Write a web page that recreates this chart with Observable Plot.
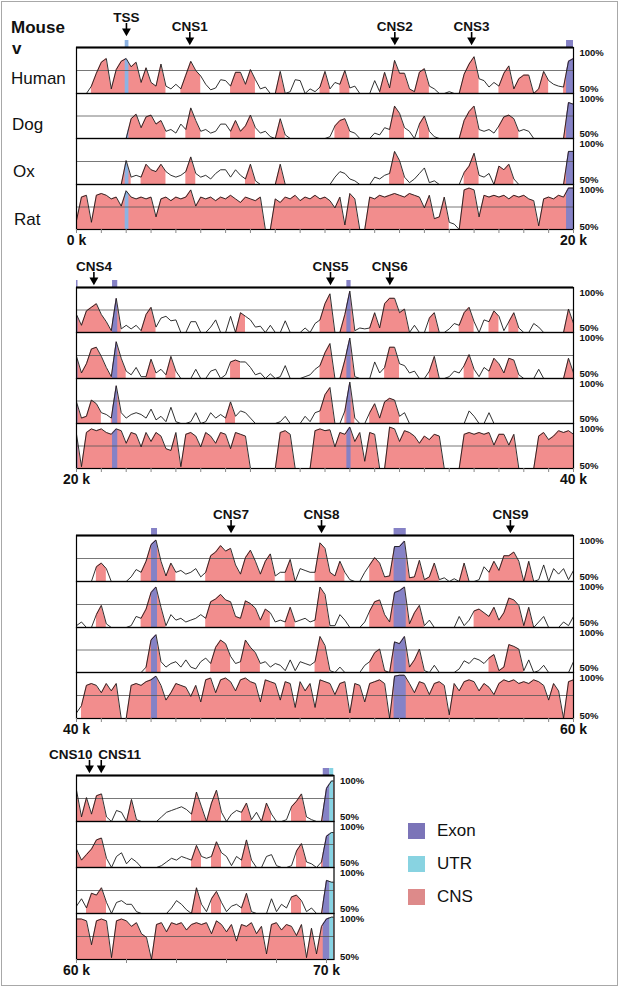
<!DOCTYPE html>
<html><head><meta charset="utf-8">
<script src="https://cdn.jsdelivr.net/npm/d3@7"></script>
<script src="https://cdn.jsdelivr.net/npm/@observablehq/plot@0.6"></script>
<style>
html,body{margin:0;padding:0;background:#fff;}
#page{position:relative;width:621px;height:987px;overflow:hidden;background:#fff;font-family:"Liberation Sans",Arial,Helvetica,sans-serif;color:#111;}
#page svg{overflow:visible;}
.abs{position:absolute;}
.lab{position:absolute;font-size:17px;line-height:20px;white-space:nowrap;}
#frame{position:absolute;left:1px;top:1px;width:615px;height:983px;border:1.5px solid #a8a8a8;}
</style></head><body><div id="page"><div id="frame"></div></div>
<script>
// ---------------- DATA ----------------
const STEP = 0.2; // kb between samples
const speciesNames = ["Human", "Dog", "Ox", "Rat"];
const panelStart = [0, 20, 40, 60];
const panelEnd = [20, 40, 60, 70.3];
const tickStep = [1, 1, 1, 2];
const axisLabels = [["0 k", "20 k"], ["20 k", "40 k"], ["40 k", "60 k"], ["60 k", "70 k"]];
const axisLabelPos = [[0, 20], [20, 40], [40, 60], [60, 70]];

const markerNames = ["TSS", "CNS1", "CNS2", "CNS3", "CNS4", "CNS5", "CNS6", "CNS7", "CNS8", "CNS9", "CNS10", "CNS11"];
const markerPos = [2.01, 4.56, 12.81, 15.9, 20.7, 30.22, 32.61, 46.22, 49.86, 57.46, 60.52, 60.99];

const featType = ["TSS", "Exon", "Exon", "Exon", "Exon", "Exon", "Exon", "UTR"];
const featStart = [1.96, 19.72, 21.45, 30.88, 43.02, 52.78, 69.87, 70.13];
const featEnd = [2.11, 20.06, 21.66, 31.05, 43.26, 53.27, 70.13, 70.29];

const legendNames = ["Exon", "UTR", "CNS"];

// conservation (%) every 0.2 kb, values below 50 drawn at 50
const human1 = [
50,50,50,58,72,84,88,55,76,85, 88,79,84,62,78,62,58,82,58,55,
60,55,70,85,75,69,60,54,56,65, 64,58,73,73,60,76,65,55,57,50,
50,74,50,52,65,64,50,55,52,57, 74,55,62,60,75,56,58,50,50,50,
64,52,73,56,86,72,72,55,52,73, 77,58,55,50,50,52,50,50,71,82,
90,66,64,57,62,58,72,80,55,66, 70,70,50,55,74,64,60,58,57,85, 88];
const dog1 = [
50,50,50,50,50,50,50,50,50,50, 50,72,77,62,74,76,66,70,58,60,
56,66,60,84,70,58,60,56,58,66, 66,58,70,58,64,76,62,56,58,52,
50,72,54,50,50,50,50,50,50,50, 50,52,64,70,72,58,56,50,50,50,
56,54,62,60,86,78,62,58,50,66, 75,58,52,50,50,50,50,50,70,80,
86,60,58,60,56,64,74,76,72,58, 60,58,50,50,50,50,50,50,50,90, 88];
const ox1 = [
50,50,50,50,50,50,50,50,50,50, 76,58,60,58,72,66,64,72,64,60,
58,60,64,80,62,58,60,56,62,66, 66,58,66,60,56,72,54,50,50,50,
50,72,50,50,50,50,50,50,50,50, 50,50,58,64,62,56,54,50,50,50,
58,56,60,62,86,76,58,52,56,62, 68,52,54,50,50,50,50,50,63,70,
84,60,58,62,50,70,66,72,56,50, 50,50,50,50,50,50,50,50,50,86, 86];
const rat1 = [
60,86,88,58,88,90,88,84,86,76, 93,86,84,86,84,86,64,84,86,82,
86,84,86,94,76,86,84,86,82,86, 84,88,84,80,86,84,82,86,50,50,
84,80,86,84,88,82,86,84,88,84, 86,82,74,86,55,90,84,50,50,86,
84,88,86,88,90,88,86,90,88,86, 74,88,62,64,86,58,56,50,94,96,
94,64,88,86,88,86,88,84,88,86, 88,84,82,54,84,86,84,88,86,96, 96];

const human2 = [
70,58,74,78,82,70,62,52,88,54, 58,54,58,52,70,78,56,66,68,63,
64,50,50,62,62,50,50,56,64,50, 50,68,50,72,68,64,56,57,50,58,
50,50,63,50,50,50,55,50,60,64, 82,93,50,50,70,96,52,55,54,55,
72,55,82,88,88,72,76,50,58,50, 50,66,72,50,50,54,60,58,72,78,
62,50,64,62,74,68,52,62,72,55, 50,50,60,56,50,50,50,50,50,76, 60];
const dog2 = [
74,56,66,82,84,74,62,52,90,72, 58,54,62,52,52,71,56,60,54,74,
58,50,50,50,60,50,50,58,60,50, 54,68,70,68,68,62,54,56,50,55,
50,52,64,50,50,50,52,54,60,64, 78,88,50,50,70,94,52,50,50,50,
68,56,62,84,84,66,64,56,58,50, 50,58,74,50,50,52,58,56,64,76,
60,52,62,58,72,66,56,72,70,54, 50,50,50,60,50,50,50,50,50,72, 56];
const ox2 = [
74,56,58,76,72,62,60,56,92,62, 56,60,62,60,56,66,54,58,52,68,
52,50,50,52,62,50,52,62,56,60, 56,74,58,64,62,56,50,50,50,50,
50,52,58,50,50,50,58,52,62,64, 82,90,50,50,64,96,56,50,50,62,
72,56,74,78,76,58,62,50,50,50, 50,50,50,50,50,50,50,50,50,64,
58,50,50,62,50,50,50,50,50,50, 50,50,50,50,50,50,50,50,50,50, 50];
const rat2 = [
88,52,90,94,92,94,90,88,94,92, 78,90,88,74,90,80,90,86,72,70,
90,52,88,90,86,74,90,86,78,90, 88,72,90,88,86,50,50,50,50,50,
50,90,92,88,50,50,50,50,92,94, 92,93,74,90,88,96,80,90,58,90,
88,50,50,96,94,80,92,90,86,78, 86,82,88,86,50,50,50,50,88,90,
88,90,88,90,76,88,88,76,88,50, 50,50,50,86,90,82,86,92,90,92, 88];

const human3 = [
50,50,50,50,66,70,64,50,50,50, 50,55,63,60,72,90,95,72,56,70,
60,62,58,60,64,55,60,78,82,89, 83,86,68,58,76,84,72,58,72,80,
56,60,60,74,50,64,62,60,60,92, 86,60,56,72,60,52,50,50,60,68,
76,70,55,56,88,88,94,54,55,73, 52,55,70,52,54,50,53,50,70,50,
50,52,66,60,72,62,78,78,82,72, 50,72,50,52,68,50,64,58,64,52, 62];
const dog3 = [
52,56,50,50,64,74,54,50,50,50, 50,52,62,60,70,88,94,72,52,64,
58,60,56,58,60,64,60,78,81,86, 80,78,62,60,79,76,71,58,70,66,
56,58,56,72,56,58,60,56,58,94, 86,52,52,64,58,50,50,50,56,68,
78,80,64,56,88,90,94,54,66,74, 52,58,50,50,50,50,50,62,52,58,
68,70,66,62,72,58,66,82,80,74, 52,72,50,56,62,50,50,50,56,52, 62];
const ox3 = [
50,50,50,50,50,50,50,50,50,50, 50,50,50,50,56,86,92,62,56,60,
62,56,64,56,54,62,66,60,78,86, 82,68,60,62,86,78,72,60,62,56,
60,58,52,64,52,62,60,58,62,90, 80,52,50,56,50,50,50,50,58,62,
72,76,52,50,84,82,90,56,64,76, 52,50,58,50,50,50,50,54,63,60,
66,64,60,66,70,52,56,81,79,76, 52,64,50,52,58,50,50,50,50,50, 62];
const rat3 = [
56,64,86,88,86,78,88,80,88,50, 50,86,88,86,90,92,96,86,70,78,
88,86,84,74,86,68,92,94,78,92, 94,90,80,92,94,90,88,68,92,90,
88,70,90,88,62,90,80,88,62,92, 90,88,76,88,90,56,88,86,68,88,
90,92,88,50,96,97,97,88,78,90, 88,76,88,90,86,54,88,80,90,92,
90,80,88,84,76,88,92,90,92,88, 90,88,92,90,86,70,88,80,50,90, 92];

const human4 = [
84,55,76,58,78,80,55,50,62,60, 50,74,52,50,50,50,50,55,60,62,
64,66,63,58,82,66,50,70,84,60, 50,58,62,60,70,52,60,50,70,58,
50,50,52,66,72,80,55,52,50,50, 86,94,94];
const dog4 = [
70,58,64,70,80,82,60,50,62,66, 54,60,56,50,50,50,50,52,56,60,
58,62,60,58,74,62,60,62,78,66, 62,52,62,58,80,58,50,50,62,64,
52,50,50,52,68,76,56,54,50,56, 84,88,88];
const ox4 = [
58,66,56,72,70,78,62,50,62,64, 60,60,52,50,50,50,50,50,50,56,
64,60,54,50,78,60,52,66,74,62, 52,58,60,56,72,52,50,50,50,66,
52,60,56,68,70,64,52,56,50,50, 86,84,84];
const rat4 = [
94,94,92,66,92,94,92,52,92,94, 92,86,90,78,74,50,88,90,80,90,
88,90,82,88,90,88,90,78,92,88, 80,88,70,88,86,90,78,86,56,88,
90,82,88,86,76,88,52,84,56,86, 94,96,96];

const tracks = [
  [human1, dog1, ox1, rat1],
  [human2, dog2, ox2, rat2],
  [human3, dog3, ox3, rat3],
  [human4, dog4, ox4, rat4]
];

// ---------------- STYLE / LAYOUT ----------------
const COL = {CNS: "#f28d8d", Exon: "#8682c6", UTR: "#86d3e3", TSS: "#8db3e3"};
const LEGCOL = {Exon: "#7b74b8", UTR: "#88d3e1", CNS: "#dd8a8a"};
const FRAME_TOP = [47, 287, 535, 775];
const FRAME_BOTTOM = [229, 468, 718, 959];
const RIGHT = [573, 573, 573, 333.5];
const LEFT = 76;
const FONT = "'Liberation Sans', Arial, Helvetica, sans-serif";

const page = document.getElementById("page");
function place(el, left, top) {
  const d = document.createElement("div");
  d.className = "abs";
  d.style.left = left + "px";
  d.style.top = top + "px";
  d.appendChild(el);
  page.appendChild(d);
}
const features = featType.map((t, i) => ({type: t, a: featStart[i], b: featEnd[i]}));

function interp(pts, x) {
  for (let i = 0; i < pts.length - 1; i++) {
    const p = pts[i], q = pts[i + 1];
    if (x >= p.kb && x <= q.kb) return p.v + (q.v - p.v) * (x - p.kb) / (q.kb - p.kb);
  }
  return NaN;
}
function seg(pts, a, b) {
  const out = [{kb: a, v: interp(pts, a)}];
  for (const d of pts) if (d.kb > a && d.kb < b) out.push(d);
  out.push({kb: b, v: interp(pts, b)});
  return out.filter(d => !isNaN(d.v));
}

function trackPlot(vals, p, k, h) {
  const x0 = panelStart[p], x1 = panelEnd[p];
  const pts = vals.map((v, i) => ({kb: Math.round((x0 + i * STEP) * 1000) / 1000, v}));
  const hi = d => d && d.v >= 70;
  const cns = pts.map((d, i) => ({kb: d.kb, v: (hi(d) || hi(pts[i - 1]) || hi(pts[i + 1])) ? d.v : NaN}));
  const lastKb = pts[pts.length - 1].kb;
  const marks = [Plot.areaY(cns, {x: "kb", y1: 50, y2: "v", fill: COL.CNS, clip: true})];
  for (const f of features) {
    const a = Math.max(f.a, x0), b = Math.min(f.b, lastKb);
    if (b > a) marks.push(Plot.areaY(seg(pts, a, b), {x: "kb", y1: 50, y2: "v", fill: COL[f.type], clip: true}));
  }
  marks.push(Plot.ruleY([75], {stroke: "#555", strokeWidth: 0.8}));
  marks.push(Plot.lineY(pts, {x: "kb", y: "v", stroke: "#1a1a1a", strokeWidth: 0.9, clip: true}));
  marks.push(Plot.frame({stroke: "#000", strokeWidth: 1.2}));
  if (k === 0) marks.push(Plot.ruleY([100], {stroke: "#000", strokeWidth: 2.2}));
  marks.push(Plot.text(["100%"], {frameAnchor: "top-right", dx: 6, dy: 1.5, textAnchor: "start", lineAnchor: "top", fontSize: 9.5, fontWeight: "bold", fill: "#111"}));
  marks.push(Plot.text(["50%"], {frameAnchor: "bottom-right", dx: 6, dy: k === 3 ? 0 : -1.5, textAnchor: "start", lineAnchor: "bottom", fontSize: 9.5, fontWeight: "bold", fill: "#111"}));
  return Plot.plot({
    width: 621, height: h,
    marginLeft: LEFT, marginRight: 621 - RIGHT[p], marginTop: 0, marginBottom: 0,
    x: {domain: [x0, x1], axis: null},
    y: {domain: [50, 100], axis: null},
    style: {background: "transparent", overflow: "visible", fontFamily: FONT},
    marks
  });
}

function headerPlot(p) {
  const HH = 50;
  const x0 = panelStart[p], x1 = panelEnd[p];
  const feats = features.filter(f => f.b > x0 && f.a < x1)
    .map(f => ({a: Math.max(f.a, x0), b: Math.min(f.b, x1), c: COL[f.type]}));
  const arrows = markerNames.map((n, i) => ({name: n, pos: markerPos[i]})).filter(d => d.pos >= x0 && d.pos < x1);
  arrows.forEach((d, i) => {
    d.raised = feats.some(f => d.pos > f.a - 0.15 && d.pos < f.b + 0.15);
    const prev = arrows[i - 1], next = arrows[i + 1];
    d.anchor = next && next.pos - d.pos < 1 ? "end" : prev && d.pos - prev.pos < 1 ? "start" : "middle";
  });
  const marks = [Plot.rect(feats, {x1: "a", x2: "b", fill: "c", insetTop: HH - 7})];
  for (const raised of [false, true]) {
    const r = raised ? 9 : 0;
    const sub = arrows.filter(d => d.raised === raised);
    if (!sub.length) continue;
    marks.push(Plot.ruleX(sub, {x: "pos", stroke: "#000", strokeWidth: 1.6, insetTop: HH - 15 - r, insetBottom: 8 + r}));
    marks.push(Plot.dot(sub, {x: "pos", frameAnchor: "bottom", dy: -7.5 - r, symbol: "triangle", r: 3.3, rotate: 180, fill: "#000", stroke: "none"}));
    for (const anc of ["start", "middle", "end"]) {
      const s2 = sub.filter(d => d.anchor === anc);
      if (s2.length) marks.push(Plot.text(s2, {x: "pos", text: "name", frameAnchor: "bottom", dy: -21 - r, dx: anc === "end" ? 3 : anc === "start" ? -3 : 0, textAnchor: anc, lineAnchor: "middle", fontSize: 13.5, fontWeight: "bold", fill: "#111"}));
    }
  }
  return Plot.plot({
    width: 621, height: HH,
    marginLeft: LEFT, marginRight: 621 - RIGHT[p], marginTop: 0, marginBottom: 0,
    x: {domain: [x0, x1], axis: null},
    color: {type: "identity"},
    style: {background: "transparent", overflow: "visible", fontFamily: FONT},
    marks
  });
}

function axisPlot(p) {
  const H = 30;
  const ticks = d3.range(panelStart[p], axisLabelPos[p][1] + 1e-9, tickStep[p]);
  return Plot.plot({
    width: 621, height: H,
    marginLeft: LEFT, marginRight: 621 - RIGHT[p], marginTop: 0, marginBottom: 0,
    x: {domain: [panelStart[p], panelEnd[p]], axis: null},
    style: {background: "transparent", overflow: "visible", fontFamily: FONT},
    marks: [
      Plot.ruleX(ticks, {x: d => d, stroke: "#888", strokeWidth: 1, insetBottom: H - 4}),
      Plot.text(axisLabels[p], {x: (d, i) => axisLabelPos[p][i], text: d => d, frameAnchor: "top", dy: 11, textAnchor: "middle", lineAnchor: "middle", fontSize: 14, fontWeight: "bold", fill: "#111"})
    ]
  });
}

for (let p = 0; p < 4; p++) {
  place(headerPlot(p), 0, FRAME_TOP[p] - 50);
  const top = FRAME_TOP[p], bot = FRAME_BOTTOM[p];
  const edges = [0, 1, 2, 3, 4].map(k => Math.round(top + k * (bot - top) / 4));
  for (let k = 0; k < 4; k++) {
    place(trackPlot(tracks[p][k], p, k, edges[k + 1] - edges[k]), 0, edges[k]);
  }
  place(axisPlot(p), 0, bot);
}

// left labels
function label(text, left, cy, bold) {
  const d = document.createElement("div");
  d.className = "lab";
  d.textContent = text;
  d.style.left = left + "px";
  d.style.top = (cy - 10) + "px";
  if (bold) d.style.fontWeight = "bold";
  page.appendChild(d);
}
label("Mouse", 11, 28, true);
label("v", 12, 49, true);
const labelY = [79, 125, 172, 220];
const labelX = [11, 12, 13, 14];
speciesNames.forEach((s, i) => label(s, labelX[i], labelY[i], false));

// legend
const legY = [831, 864, 897];
legendNames.forEach((n, i) => {
  const sw = document.createElement("div");
  sw.className = "abs";
  sw.style.cssText = `left:408px;top:${legY[i] - 8}px;width:17px;height:16px;background:${LEGCOL[n]};`;
  page.appendChild(sw);
  label(n, 437, legY[i], false);
});
</script>
</body></html>
